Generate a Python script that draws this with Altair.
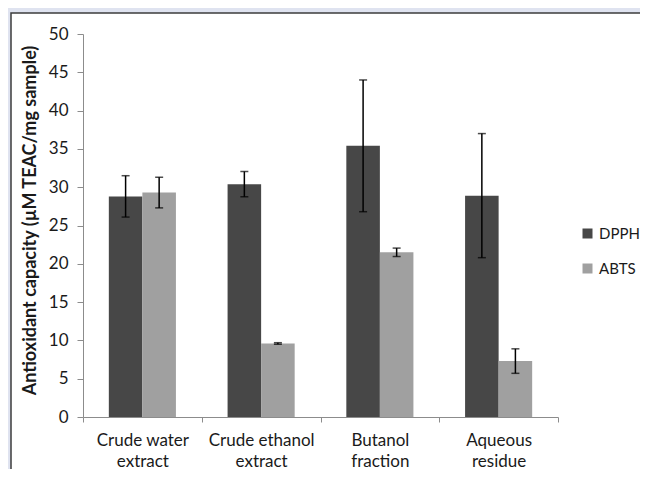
import altair as alt
import pandas as pd

categories = ["Crude water extract", "Crude ethanol extract", "Butanol fraction", "Aqueous residue"]
series = ["DPPH", "ABTS"]
dpph_values = [28.8, 30.4, 35.4, 28.9]
dpph_errors = [2.7, 1.65, 8.6, 8.1]
abts_values = [29.3, 9.6, 21.5, 7.3]
abts_errors = [2.0, 0.1, 0.55, 1.6]
y_ticks = [0, 5, 10, 15, 20, 25, 30, 35, 40, 45, 50]
colors = ["#474747", "#a0a0a0"]

rows = []
for s, vals, errs in [("DPPH", dpph_values, dpph_errors), ("ABTS", abts_values, abts_errors)]:
    for c, v, e in zip(categories, vals, errs):
        rows.append({"sample": c, "assay": s, "value": v, "low": v - e, "high": v + e})
df = pd.DataFrame(rows)

FONT = "Lato"
AXIS_COLOR = "#8c8c8c"
TEXT_COLOR = "#1a1a1a"

x_axis = alt.Axis(
    title=None,
    labelAngle=0,
    tickBand="extent",
    labelExpr="[substring(datum.label, 0, lastindexof(datum.label, ' ')), substring(datum.label, lastindexof(datum.label, ' ') + 1)]",
    labelFontSize=17,
    labelLineHeight=21,
    labelPadding=10,
    labelBaseline="top",
    tickSize=5,
    zindex=2,
)
x_scale = alt.Scale(paddingInner=0, paddingOuter=0)
xoff = alt.XOffset("assay:N", sort=series, scale=alt.Scale(paddingInner=0, paddingOuter=0.77))
y_axis = alt.Axis(
    values=y_ticks,
    grid=False,
    title="Antioxidant capacity (µM TEAC/mg sample)",
    titleFontSize=18,
    titleFontWeight="bold",
    titleX=-48,
    titleY=186,
    titleAlign="center",
    titleBaseline="alphabetic",
    titleAngle=270,
    labelFontSize=17,
    labelPadding=9,
    tickSize=6,
    labelOverlap=False,
    zindex=2,
)
y_scale = alt.Scale(domain=[0, 50], nice=False)


def xenc():
    return alt.X("sample:N", sort=categories, scale=x_scale, axis=x_axis)


def yenc(field):
    return alt.Y(field, scale=y_scale, axis=y_axis)


base = alt.Chart(df)

panel = alt.Chart(pd.DataFrame({"k": [0]})).mark_rect(
    fill="white", stroke="#3c3c3c", strokeWidth=1.5
).encode(
    x=alt.value(-72), x2=alt.value(640), y=alt.value(-21), y2=alt.value(480)
)

bars = base.mark_bar().encode(
    x=xenc(),
    xOffset=xoff,
    y=yenc("value:Q"),
    color=alt.Color(
        "assay:N",
        sort=series,
        scale=alt.Scale(domain=series, range=colors),
        legend=alt.Legend(
            title=None,
            orient="none",
            legendX=497,
            legendY=192,
            symbolType="square",
            symbolSize=100,
            symbolStrokeWidth=0,
            labelFontSize=15,
            labelOffset=4,
            rowPadding=19,
            padding=0,
            zindex=2,
        ),
    ),
)

rules = base.mark_rule(color="black", strokeWidth=1.5).encode(
    x=xenc(), xOffset=xoff, y=yenc("low:Q"), y2="high:Q"
)
cap_low = base.mark_tick(color="black", thickness=1.5, size=8).encode(
    x=xenc(), xOffset=xoff, y=yenc("low:Q")
)
cap_high = base.mark_tick(color="black", thickness=1.5, size=8).encode(
    x=xenc(), xOffset=xoff, y=yenc("high:Q")
)

chart = alt.layer(panel, bars, rules, cap_low, cap_high).properties(
    width=475,
    height=383,
    autosize=alt.AutoSizeParams(type="none"),
    padding={"left": 75, "top": 26, "right": 82, "bottom": 52},
    background="#dfe3f0",
).configure_view(
    strokeWidth=0
).configure_axis(
    domainColor=AXIS_COLOR,
    tickColor=AXIS_COLOR,
    domainWidth=1,
    tickWidth=1,
    labelFont=FONT,
    titleFont=FONT,
    labelColor=TEXT_COLOR,
    titleColor=TEXT_COLOR,
).configure_legend(
    labelFont=FONT,
    labelColor=TEXT_COLOR,
)

chart.save("out.html", embed_options={"renderer": "svg", "actions": False})
